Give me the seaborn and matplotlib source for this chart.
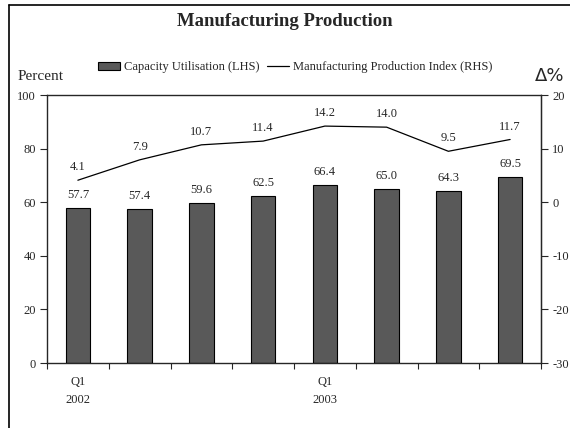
import matplotlib.pyplot as plt
import matplotlib.patches as mpatches
from matplotlib.lines import Line2D
import numpy as np
import seaborn as sns

quarters = ["2002Q1", "2002Q2", "2002Q3", "2002Q4", "2003Q1", "2003Q2", "2003Q3", "2003Q4"]
capacity = [57.7, 57.4, 59.6, 62.5, 66.4, 65.0, 64.3, 69.5]
mpi_change = [4.1, 7.9, 10.7, 11.4, 14.2, 14.0, 9.5, 11.7]
tick_labels = ["Q1\n2002", "", "", "", "Q1\n2003", "", "", ""]

BAR_COLOR = "#595959"
W, H = 570, 428

sns.set_style("white")
plt.rcParams["font.family"] = ["Liberation Serif", "DejaVu Serif"]

fig = plt.figure(figsize=(5.7, 4.28), dpi=100)
ax = fig.add_axes([47 / W, 1 - 363 / H, 494 / W, 268 / H])

x = np.arange(len(quarters))
sns.barplot(x=x, y=capacity, ax=ax, color=BAR_COLOR, edgecolor="black",
            linewidth=0.8, width=0.4, saturation=1)
ax.set_xlim(-0.5, len(quarters) - 0.5)
ax.set_ylim(0, 100)
ax.set_yticks(range(0, 101, 20))
ax.set_xticks(np.arange(-0.5, len(quarters), 1))
ax.set_xticklabels([])
ax.tick_params(axis="y", direction="out", length=5, width=0.8, labelsize=9, pad=3, left=True)
ax.tick_params(axis="x", direction="out", length=4, width=0.8, bottom=True)
for s in ["left", "bottom", "top", "right"]:
    ax.spines[s].set_visible(True)
    ax.spines[s].set_color("black")
    ax.spines[s].set_linewidth(0.9)
ax.set_xlabel("")

for i, v in enumerate(capacity):
    ax.text(i, v + 2.6, f"{v:.1f}", ha="center", va="bottom", fontsize=9)

for i, lab in enumerate(tick_labels):
    if lab:
        ax.text(i, -5, lab, ha="center", va="top", fontsize=9, linespacing=1.6)

ax2 = ax.twinx()
sns.lineplot(x=x, y=mpi_change, ax=ax2, color="black", linewidth=0.9)
ax2.set_ylim(-30, 20)
ax2.set_yticks(range(-30, 21, 10))
ax2.set_yticklabels([str(t) for t in range(-30, 21, 10)])
ax2.tick_params(axis="y", direction="out", length=5, width=0.8, labelsize=9, pad=3, right=True)
ax2.spines["right"].set_linewidth(0.9)
for i, v in enumerate(mpi_change):
    ax2.text(i, v + 1.3, f"{v:.1f}", ha="center", va="bottom", fontsize=9)

fig.text(0.5, 1 - 21 / H, "Manufacturing Production", ha="center", va="center",
         fontsize=13.5, fontweight="bold")
fig.text(18 / W, 1 - 77 / H, "Percent", ha="left", va="center", fontsize=11)
fig.text(564 / W, 1 - 76 / H, "Δ%", ha="right", va="center", fontsize=13,
         family=["DejaVu Sans"])

handles = [mpatches.Patch(facecolor=BAR_COLOR, edgecolor="black", linewidth=0.8),
           Line2D([0], [0], color="black", linewidth=0.9)]
fig.legend(handles, ["Capacity Utilisation (LHS)", "Manufacturing Production Index (RHS)"],
           loc="center", bbox_to_anchor=(295 / W, 1 - 67 / H), ncol=2, frameon=False,
           fontsize=9, handlelength=1.8, handleheight=0.6, columnspacing=0.6, handletextpad=0.3)

# outer frame (left and top edges only)
frame = dict(color="black", linewidth=1.2, transform=fig.transFigure)
fig.add_artist(Line2D([9 / W, 9 / W], [0, 1 - 5 / H], **frame))
fig.add_artist(Line2D([9 / W, 1.0], [1 - 5 / H, 1 - 5 / H], **frame))

fig.savefig("out.png", dpi=100)
